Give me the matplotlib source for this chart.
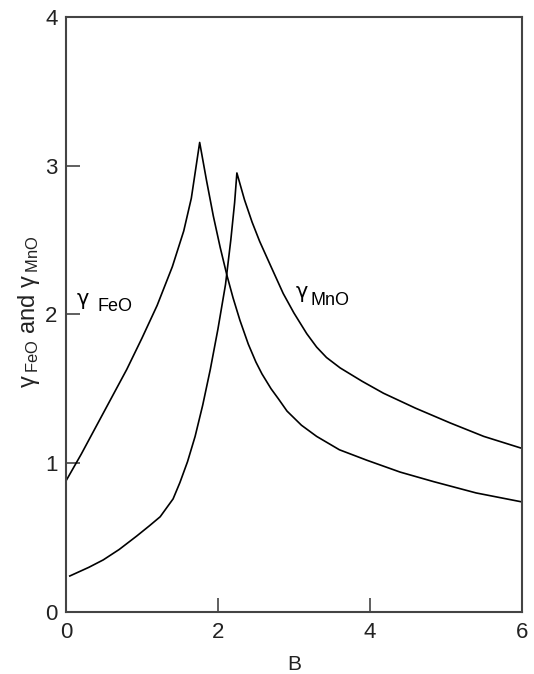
import matplotlib
matplotlib.use("Agg")
import matplotlib.pyplot as plt

plt.rcParams['font.family'] = ['Liberation Sans', 'DejaVu Sans']
plt.rcParams['mathtext.fontset'] = 'custom'
plt.rcParams['mathtext.rm'] = 'Liberation Sans'
plt.rcParams['mathtext.it'] = 'Liberation Sans'
plt.rcParams['mathtext.default'] = 'regular'

# data
b_feo = [0.01, 0.2, 0.4, 0.6, 0.8, 1.0, 1.2, 1.4, 1.55, 1.65, 1.76,
         1.85, 1.94, 2.03, 2.12, 2.2, 2.29, 2.4, 2.5, 2.58, 2.7, 2.8, 2.91,
         3.1, 3.3, 3.6, 3.96, 4.4, 4.84, 5.4, 6.0]
g_feo = [0.89, 1.06, 1.25, 1.44, 1.63, 1.84, 2.06, 2.32, 2.56, 2.78, 3.155,
         2.90, 2.66, 2.45, 2.26, 2.11, 1.96, 1.80, 1.68, 1.60, 1.50, 1.43, 1.35,
         1.255, 1.18, 1.09, 1.02, 0.94, 0.876, 0.80, 0.74]

b_mno = [0.05, 0.3, 0.49, 0.7, 0.93, 1.1, 1.24, 1.41, 1.5, 1.6, 1.7, 1.8,
         1.9, 2.0, 2.1, 2.17, 2.22, 2.25,
         2.35, 2.45, 2.55, 2.7, 2.86, 3.0, 3.17, 3.3, 3.43, 3.61, 3.9, 4.18, 4.6,
         5.06, 5.5, 6.0]
g_mno = [0.242, 0.30, 0.35, 0.42, 0.51, 0.58, 0.64, 0.76, 0.87, 1.01, 1.18, 1.39,
         1.63, 1.90, 2.20, 2.50, 2.75, 2.95,
         2.77, 2.62, 2.49, 2.32, 2.14, 2.01, 1.87, 1.78, 1.71, 1.64, 1.55, 1.47, 1.37,
         1.27, 1.18, 1.10]

xticks = [0, 2, 4, 6]
yticks = [0, 1, 2, 3, 4]

W, H = 534, 674
fig = plt.figure(figsize=(W / 100, H / 100), dpi=100)
ax = fig.add_axes([66 / W, 1 - 612 / H, (521.7 - 66) / W, (612 - 16.7) / H])

ax.plot(b_feo, g_feo, color='black', lw=1.2)
ax.plot(b_mno, g_mno, color='black', lw=1.2)

ax.set_xlim(0, 6)
ax.set_ylim(0, 4)
ax.set_xticks(xticks)
ax.set_yticks(yticks)
ax.tick_params(direction='in', length=10, width=1.2, color='#444444',
               labelsize=16, labelcolor='#222222', top=False, right=False)
ax.tick_params(axis='x', pad=7)
ax.tick_params(axis='y', pad=6)
for s in ax.spines.values():
    s.set_linewidth(1.5)
    s.set_color('#444444')

ax.set_xlabel('B', fontsize=15, color='#222222', va='center')
ax.xaxis.set_label_coords(0.5, -(665 - 612) / (612 - 16.7))

ax.set_ylabel(r'$\gamma\,{}_{FeO}$ and $\gamma\,{}_{MnO}$', fontsize=17,
              color='#222222', va='center')
ax.yaxis.set_label_coords(-(66 - 29) / (521.7 - 66), (612 - 312) / (612 - 16.7))

# curve labels
ax.text(0.145, 2.10, 'γ', fontsize=15, family='DejaVu Sans', va='center', ha='left')
ax.text(0.41, 2.05, 'FeO', fontsize=13, va='center', ha='left')
ax.text(3.02, 2.15, 'γ', fontsize=15, family='DejaVu Sans', va='center', ha='left')
ax.text(3.22, 2.09, 'MnO', fontsize=13, va='center', ha='left')

fig.savefig('out.png', dpi=100)
